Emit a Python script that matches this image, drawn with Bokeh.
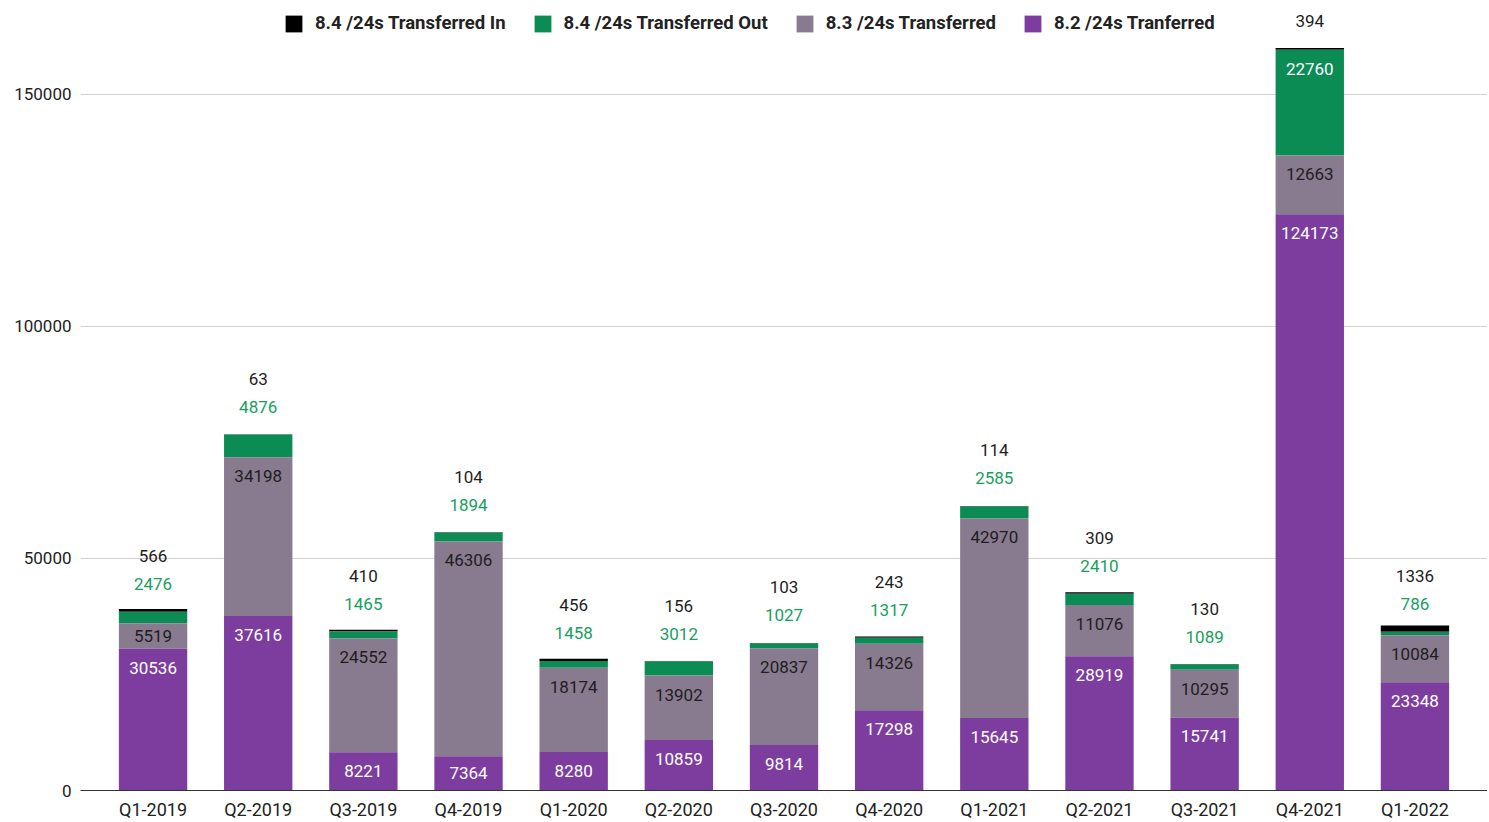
from bokeh.plotting import figure
from bokeh.models import (ColumnDataSource, FactorRange, Legend, LegendItem,
                          FixedTicker, Range1d)
from bokeh.core.properties import value
from bokeh.embed import file_html
from bokeh.resources import INLINE

quarters = ["Q1-2019", "Q2-2019", "Q3-2019", "Q4-2019", "Q1-2020", "Q2-2020",
            "Q3-2020", "Q4-2020", "Q1-2021", "Q2-2021", "Q3-2021", "Q4-2021", "Q1-2022"]
tr82 = [30536, 37616, 8221, 7364, 8280, 10859, 9814, 17298, 15645, 28919, 15741, 124173, 23348]
tr83 = [5519, 34198, 24552, 46306, 18174, 13902, 20837, 14326, 42970, 11076, 10295, 12663, 10084]
out84 = [2476, 4876, 1465, 1894, 1458, 3012, 1027, 1317, 2585, 2410, 1089, 22760, 786]
in84 = [566, 63, 410, 104, 456, 156, 103, 243, 114, 309, 130, 394, 1336]
y_ticks = [0, 50000, 100000, 150000]

C_PURPLE = "#7d3d9e"
C_GRAY = "#887a8f"
C_GREEN = "#0b8c55"
C_BLACK = "#000000"
FONT = "Roboto"

Y_END = 170230
FRAME_H = 791
PX = FRAME_H / Y_END  # pixels per unit

s1 = list(tr82)
s2 = [a + b for a, b in zip(s1, tr83)]
s3 = [a + b for a, b in zip(s2, out84)]
s4 = [a + b for a, b in zip(s3, in84)]
zero = [0] * len(quarters)

src = ColumnDataSource(dict(x=quarters, b1=zero, t1=s1, b2=s1, t2=s2, b3=s2, t3=s3, b4=s3, t4=s4))

p = figure(x_range=FactorRange(*quarters, range_padding=0.19, range_padding_units="absolute"),
           y_range=Range1d(0, Y_END),
           width=1487, height=822, output_backend="svg", toolbar_location=None,
           min_border_left=80, min_border_right=0, min_border_top=0, min_border_bottom=31)

W = 0.65
r_in = p.vbar(x="x", bottom="b4", top="t4", width=W, source=src, fill_color=C_BLACK, line_color=None)
r_out = p.vbar(x="x", bottom="b3", top="t3", width=W, source=src, fill_color=C_GREEN, line_color=None)
r83 = p.vbar(x="x", bottom="b2", top="t2", width=W, source=src, fill_color=C_GRAY, line_color=None)
r82 = p.vbar(x="x", bottom="b1", top="t1", width=W, source=src, fill_color=C_PURPLE, line_color=None)

def inside_offset(v):
    return min(19, v * PX / 2)

# purple labels
p.text(x=quarters, y=s1, text=[str(v) for v in tr82],
       y_offset=[inside_offset(v) for v in tr82],
       text_color="#ffffff", text_align="center", text_baseline="middle",
       text_font=value(FONT), text_font_size="17px")
# gray labels
p.text(x=quarters, y=s2, text=[str(v) for v in tr83],
       y_offset=[inside_offset(v) for v in tr83],
       text_color="#1e1e1e", text_align="center", text_baseline="middle",
       text_font=value(FONT), text_font_size="17px")
# green labels
g_inside = [v * PX > 60 for v in out84]
p.text(x=quarters, y=s3, text=[str(v) for v in out84],
       y_offset=[19 if g else -28 for g in g_inside],
       text_color=["#ffffff" if g else "#17a05d" for g in g_inside],
       text_align="center", text_baseline="middle",
       text_font=value(FONT), text_font_size="17px")
# black labels
p.text(x=quarters, y=s3, text=[str(v) for v in in84],
       y_offset=[-29 if g else -56 for g in g_inside],
       text_color="#1e1e1e", text_align="center", text_baseline="middle",
       text_font=value(FONT), text_font_size="17px")

# axes
p.yaxis.ticker = FixedTicker(ticks=y_ticks)
p.yaxis.axis_line_color = None
p.yaxis.major_tick_line_color = None
p.yaxis.minor_tick_line_color = None
p.yaxis.major_label_text_font = FONT
p.yaxis.major_label_text_font_size = "17px"
p.yaxis.major_label_text_color = "#222222"
p.yaxis.major_label_standoff = 3
p.yaxis.formatter.use_scientific = False

p.xaxis.axis_line_color = "#333333"
p.xaxis.major_tick_line_color = None
p.xaxis.minor_tick_line_color = None
p.xaxis.major_label_text_font = FONT
p.xaxis.major_label_text_font_size = "18px"
p.xaxis.major_label_text_color = "#222222"
p.xaxis.major_label_standoff = 2

p.xgrid.grid_line_color = None
p.ygrid.grid_line_color = "#d0d0d0"
p.ygrid.ticker = FixedTicker(ticks=y_ticks[1:])
p.outline_line_color = None

legend = Legend(items=[
    LegendItem(label="8.4 /24s Transferred In", renderers=[r_in]),
    LegendItem(label="8.4 /24s Transferred Out", renderers=[r_out]),
    LegendItem(label="8.3 /24s Transferred", renderers=[r83]),
    LegendItem(label="8.2 /24s Tranferred", renderers=[r82]),
], orientation="horizontal", location=(203, 756),
    label_text_font=FONT, label_text_font_size="18.5px", label_text_font_style="bold",
    label_text_color="#222222",
    glyph_width=21, glyph_height=21, label_standoff=11, spacing=26,
    padding=0, margin=0, background_fill_alpha=0, border_line_color=None)
p.add_layout(legend)

open("out.html", "w").write(file_html(p, INLINE))
